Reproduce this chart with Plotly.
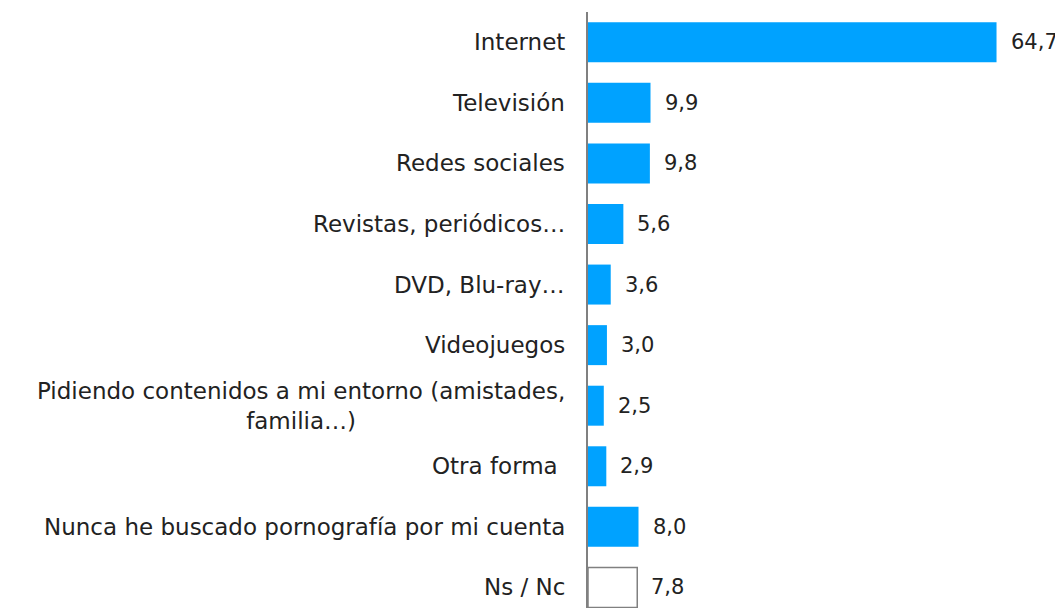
import plotly.graph_objects as go

categories = [
    "Internet",
    "Televisión",
    "Redes sociales",
    "Revistas, periódicos…",
    "DVD, Blu-ray…",
    "Videojuegos",
    "Pidiendo contenidos a mi entorno (amistades,<br>familia…)",
    "Otra forma\u00a0",
    "Nunca he buscado pornografía por mi cuenta",
    "Ns / Nc",
]
values = [64.7, 9.9, 9.8, 5.6, 3.6, 3.0, 2.5, 2.9, 8.0, 7.8]
value_labels = ["64,7", "9,9", "9,8", "5,6", "3,6", "3,0", "2,5", "2,9", "8,0", "7,8"]

BLUE = "#00A2FF"
FONT = "DejaVu Sans"
FS_CAT = 23
FS_VAL = 21
fills = [BLUE] * 9 + ["#FFFFFF"]
lines = [BLUE] * 9 + ["#808080"]
line_w = [0] * 9 + [1.5]

ypos = list(range(len(categories)))

fig = go.Figure()
fig.add_trace(go.Bar(
    x=values, y=ypos, orientation="h",
    marker=dict(color=fills, line=dict(color=lines, width=line_w)),
    width=0.66, hoverinfo="skip",
))

annotations = []
for i, (cat, v, lab) in enumerate(zip(categories, values, value_labels)):
    annotations.append(dict(
        x=0, y=i, xref="paper", yref="y", text=cat, showarrow=False,
        xanchor="right", yanchor="middle", xshift=-21, align="center",
        font=dict(family=FONT, size=FS_CAT, color="#222222"),
    ))
    annotations.append(dict(
        x=v, y=i, xref="x", yref="y", text=lab, showarrow=False,
        xanchor="left", yanchor="middle", xshift=12,
        font=dict(family=FONT, size=FS_VAL, color="#222222"),
    ))

# the page body adds an 8px offset, so the figure is sized to the visible area
fig.update_layout(
    width=1055, height=600,
    margin=dict(l=580, r=33, t=4, b=0),
    paper_bgcolor="white", plot_bgcolor="white",
    showlegend=False,
    annotations=annotations,
    xaxis=dict(range=[0, 70], visible=False, fixedrange=True),
    yaxis=dict(range=[9.34, -0.5], showticklabels=False, showgrid=False,
               zeroline=False, showline=True, linecolor="#808080", linewidth=2,
               ticks="", fixedrange=True),
)

fig.write_html("out.html")
